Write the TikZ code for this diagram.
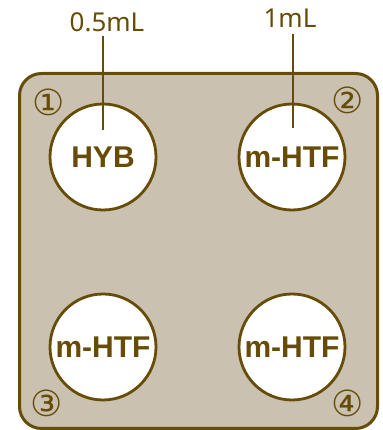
\documentclass[tikz,border=0pt]{standalone}
\usepackage{fontspec}
\setmainfont{Noto Sans}
\newfontfamily\boldfont{Liberation Sans}
\newfontfamily\symfont{DejaVu Sans}
\definecolor{brn}{HTML}{674C08}
\definecolor{plate}{HTML}{CAC1B0}
\begin{document}
\begin{tikzpicture}[x=1pt,y=1pt,
  well/.style={circle,draw=brn,line width=2.8pt,fill=white,minimum size=106pt,inner sep=0pt,text=brn,font=\boldfont\bfseries\fontsize{30}{32}\selectfont},
  vol/.style={text=brn,font=\fontsize{26}{28}\selectfont,inner sep=0pt},
  num/.style={text=brn,font=\symfont\fontsize{36}{38}\selectfont,inner sep=0pt},
  lead/.style={draw=brn,line width=2.3pt}]
\useasboundingbox (0,0) rectangle (382,430);
\draw[brn,fill=plate,line width=3pt,rounded corners=22pt] (19.5,1.5) rectangle (377.5,356.5);
\node[well] (w1) at (103,273) {HYB};
\node[well] (w2) at (292,273) {m-HTF};
\node[well] (w3) at (103,83) {m-HTF};
\node[well] (w4) at (292,83) {m-HTF};
\node[vol] (v1) at (107,408) {0.5mL};
\node[vol] (v2) at (290,412) {1mL};
\coordinate (e1) at (103,300);
\coordinate (e2) at (293,302);
\draw[lead] (103,394) -- (e1);
\draw[lead] (293,396) -- (e2);
\node[num] (n1) at (49,328) {①};
\node[num] (n2) at (348,330) {②};
\node[num] (n3) at (47,27) {③};
\node[num] (n4) at (348,27) {④};
\end{tikzpicture}
\end{document}
